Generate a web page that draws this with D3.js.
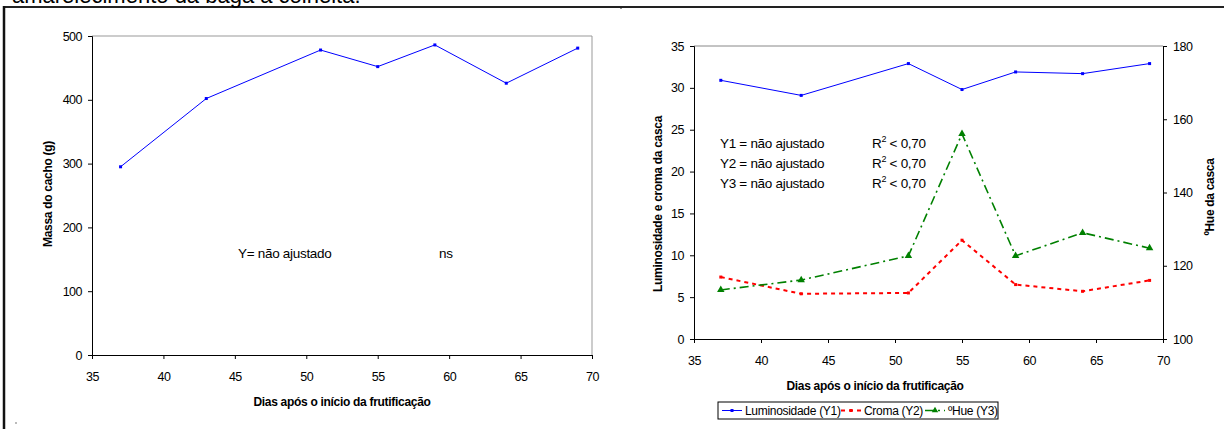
<!DOCTYPE html>
<html>
<head>
<meta charset="utf-8">
<title>Massa do cacho e cor da casca</title>
<script src="https://cdn.jsdelivr.net/npm/d3@7"></script>
<style>
  body { margin: 0; background: #fff; }
  svg text { font-family: "Liberation Sans", Arial, sans-serif; fill: #000; }
  .tick text { font-size: 12.5px; letter-spacing: -0.5px; }
  .ttl { font-size: 12px; font-weight: bold; letter-spacing: -0.3px; }
  .note { font-size: 13.5px; letter-spacing: -0.3px; }
  .leg { font-size: 12px; letter-spacing: -0.3px; }
</style>
</head>
<body>
<svg id="chart" width="1224" height="429"></svg>
<script>
// dias apos o inicio da frutificacao
var dias = [37, 43, 51, 55, 59, 64, 69];
var massa = [295, 402, 478, 452, 486, 426, 481];
var luminosidade = [30.9, 29.1, 32.9, 29.8, 31.9, 31.7, 32.9];
var croma = [7.4, 5.4, 5.5, 11.8, 6.5, 5.7, 7.0];
var hue = [113.4, 116.1, 122.7, 156, 122.7, 129, 124.8];

var xTicks = [35, 40, 45, 50, 55, 60, 65, 70];
var massaTicks = [0, 100, 200, 300, 400, 500];
var lcTicks = [0, 5, 10, 15, 20, 25, 30, 35];
var hueTicks = [100, 120, 140, 160, 180];

var svg = d3.select("#chart");

// frame and cut title from the page above
svg.append("line").attr("x1", 4).attr("x2", 1224).attr("y1", 7).attr("y2", 7)
  .attr("stroke", "#222").attr("stroke-width", 2);
svg.append("line").attr("x1", 4).attr("x2", 4).attr("y1", 6).attr("y2", 429)
  .attr("stroke", "#111").attr("stroke-width", 2.5);
svg.append("line").attr("x1", 621).attr("x2", 621).attr("y1", 6).attr("y2", 9)
  .attr("stroke", "#222");
svg.append("text").attr("x", 12).attr("y", 3).style("font-size", "22px")
  .text("amarelecimento da baga à colheita.");
svg.append("rect").attr("x", 15).attr("y", 422).attr("width", 2).attr("height", 2).attr("fill", "#bbb");

function styleAxis(g) {
  g.select(".domain").attr("stroke", "#000");
  g.selectAll(".tick line").attr("stroke", "#000");
}

// ---------- left chart: massa do cacho ----------
var x1 = d3.scaleLinear().domain([35, 70]).range([92, 592]);
var y1 = d3.scaleLinear().domain([0, 500]).range([355, 36]);

var left = svg.append("g");
left.append("line").attr("x1", 92).attr("x2", 592).attr("y1", 36).attr("y2", 36).attr("stroke", "#999");
left.append("line").attr("x1", 592).attr("x2", 592).attr("y1", 36).attr("y2", 355).attr("stroke", "#999");

left.append("g").attr("transform", "translate(0,355)")
  .call(d3.axisBottom(x1).tickValues(xTicks).tickSize(4).tickPadding(13).tickFormat(d3.format("d")))
  .call(styleAxis);
left.append("g").attr("transform", "translate(92,0)")
  .call(d3.axisLeft(y1).tickValues(massaTicks).tickSize(4).tickPadding(6).tickFormat(d3.format("d")))
  .call(styleAxis);

var lineM = d3.line().x(function(d, i) { return x1(dias[i]); }).y(function(d) { return y1(d); });
left.append("path").datum(massa).attr("d", lineM).attr("fill", "none").attr("stroke", "#0000ff").attr("stroke-width", 1);
left.selectAll(".mk").data(massa).enter().append("rect")
  .attr("x", function(d, i) { return x1(dias[i]) - 1.5; }).attr("y", function(d) { return y1(d) - 1.5; })
  .attr("width", 3).attr("height", 3).attr("fill", "#0000ff");

left.append("text").attr("class", "note").attr("x", 238).attr("y", 258).text("Y= não ajustado");
left.append("text").attr("class", "note").attr("x", 439).attr("y", 258).text("ns");

left.append("text").attr("class", "ttl").attr("text-anchor", "middle")
  .attr("transform", "translate(52,194) rotate(-90)").text("Massa do cacho (g)");
left.append("text").attr("class", "ttl").attr("text-anchor", "middle")
  .attr("x", 342).attr("y", 406).text("Dias após o início da frutificação");

// ---------- right chart: luminosidade, croma, hue ----------
var x2 = d3.scaleLinear().domain([35, 70]).range([694, 1163]);
var y2 = d3.scaleLinear().domain([0, 35]).range([339, 46]);
var y3 = d3.scaleLinear().domain([100, 180]).range([339, 46]);

var right = svg.append("g");
right.append("line").attr("x1", 694).attr("x2", 1163).attr("y1", 46).attr("y2", 46).attr("stroke", "#888");

right.append("g").attr("transform", "translate(0,339)")
  .call(d3.axisBottom(x2).tickValues(xTicks).tickSize(4).tickPadding(13).tickFormat(d3.format("d")))
  .call(styleAxis);
right.append("g").attr("transform", "translate(694,0)")
  .call(d3.axisLeft(y2).tickValues(lcTicks).tickSize(4).tickPadding(6).tickFormat(d3.format("d")))
  .call(styleAxis);
right.append("g").attr("transform", "translate(1163,0)")
  .call(d3.axisRight(y3).tickValues(hueTicks).tickSize(4).tickPadding(6).tickFormat(d3.format("d")))
  .call(styleAxis);

function lineFor(scale) {
  return d3.line().x(function(d, i) { return x2(dias[i]); }).y(function(d) { return scale(d); });
}

var series = [
  { name: "Luminosidade (Y1)", values: luminosidade, scale: y2, color: "#0000ff", width: 1, dash: null, marker: "square" },
  { name: "Croma (Y2)", values: croma, scale: y2, color: "#ff0000", width: 2, dash: "4,4", marker: "square" },
  { name: "ºHue (Y3)", values: hue, scale: y3, color: "#008000", width: 1.6, dash: "9,4,2,4", marker: "triangle" }
];

series.forEach(function(s) {
  right.append("path").datum(s.values).attr("d", lineFor(s.scale))
    .attr("fill", "none").attr("stroke", s.color).attr("stroke-width", s.width)
    .attr("stroke-dasharray", s.dash);
  right.selectAll(null).data(s.values).enter().append("path")
    .attr("transform", function(d, i) { return "translate(" + x2(dias[i]) + "," + s.scale(d) + ")"; })
    .attr("d", d3.symbol().type(s.marker === "triangle" ? d3.symbolTriangle : d3.symbolSquare).size(s.marker === "triangle" ? 24 : 9))
    .attr("fill", s.color);
});

// annotations
var notes = ["Y1 = não ajustado", "Y2 = não ajustado", "Y3 = não ajustado"];
notes.forEach(function(t, i) {
  right.append("text").attr("class", "note").attr("x", 720).attr("y", 148 + i * 20).text(t);
  var r = right.append("text").attr("class", "note").attr("x", 872).attr("y", 148 + i * 20);
  r.append("tspan").text("R");
  r.append("tspan").attr("dy", -6).style("font-size", "9px").text("2");
  r.append("tspan").attr("dy", 6).text(" < 0,70");
});

right.append("text").attr("class", "ttl").attr("text-anchor", "middle")
  .attr("transform", "translate(662,204) rotate(-90)").text("Luminosidade e croma da casca");
right.append("text").attr("class", "ttl").attr("text-anchor", "middle")
  .attr("transform", "translate(1214,197) rotate(-90)").text("ºHue da casca");
right.append("text").attr("class", "ttl").attr("text-anchor", "middle")
  .attr("x", 875).attr("y", 390).text("Dias após o início da frutificação");

// legend
var legend = right.append("g");
legend.append("rect").attr("x", 718).attr("y", 402).attr("width", 280).attr("height", 17)
  .attr("fill", "#fff").attr("stroke", "#000").attr("stroke-width", 1);
var legX = [722, 841, 925];
series.forEach(function(s, i) {
  var gx = legX[i];
  legend.append("line").attr("x1", gx).attr("x2", gx + 20).attr("y1", 410.5).attr("y2", 410.5)
    .attr("stroke", s.color).attr("stroke-width", s.width).attr("stroke-dasharray", s.dash);
  legend.append("path").attr("transform", "translate(" + (gx + 10) + ",410.5)")
    .attr("d", d3.symbol().type(s.marker === "triangle" ? d3.symbolTriangle : d3.symbolSquare).size(s.marker === "triangle" ? 18 : 9))
    .attr("fill", s.color);
  legend.append("text").attr("class", "leg").attr("x", gx + 23).attr("y", 415).text(s.name);
});
</script>
</body>
</html>
